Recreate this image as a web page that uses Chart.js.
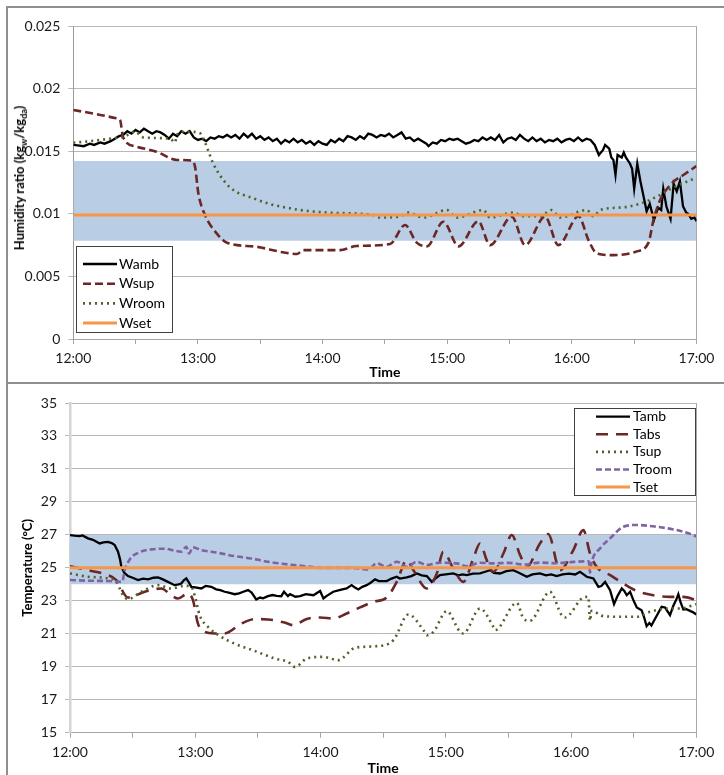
<!DOCTYPE html>
<html>
<head>
<meta charset="utf-8">
<script src="https://cdn.jsdelivr.net/npm/chart.js@4.4.1/dist/chart.umd.min.js"></script>
<style>
  html, body { margin: 0; padding: 0; background: #fff; }
  #wrap { position: relative; width: 724px; height: 775px; overflow: hidden; background: #fff; }
  .frame { position: absolute; background: #8f8f8f; }
  canvas { position: absolute; }
  #cTop { left: 8px; top: 8px; }
  #cBot { left: 8px; top: 384px; }
  #hTitle {
    position: absolute; left: 20px; top: 178px;
    transform: translate(-50%, -50%) rotate(-90deg);
    white-space: nowrap; font: bold 13px Lato, "Liberation Sans", sans-serif; color: #000;
  }
  #hTitle sub { font-size: 9px; vertical-align: -3px; }
</style>
</head>
<body>
<div id="wrap">
  <div class="frame" style="left:6px;top:6px;width:2px;height:769px"></div>
  <div class="frame" style="left:6px;top:6px;width:718px;height:2px"></div>
  <div class="frame" style="left:6px;top:382px;width:718px;height:2px"></div>
  <canvas id="cTop" width="716" height="374"></canvas>
  <canvas id="cBot" width="716" height="391"></canvas>
  <div id="hTitle">Humidity ratio (kg<sub>w</sub>/kg<sub>da</sub>)</div>
</div>
<script>
// ---------------- DATA (time in minutes after 12:00) ----------------
const xTickLabels = ['12:00', '13:00', '14:00', '15:00', '16:00', '17:00'];

// Humidity chart
const humBandLow = 0.00785;
const humBandHigh = 0.01422;
const wsetValue = 0.0099;

const wambT = [0,3,5,8,10,13,15,18,20,22,24,26,28,30,32,34,36,38,40,42,44,46,48,50,52,54,56,58,60,62,64,66,68,70,72,74,76,78,80,82,84,86,88,90,92,94,96,98,100,102,104,106,108,110,112,114,116,118,120,122,124,126,128,130,132,134,136,138,140,142,144,146,148,150,152,154,156,158,160,162,164,166,168,170,171,173,175,177,179,181,183,185,187,189,191,193,195,197,199,201,203,205,207,209,211,213,215,217,219,221,223,225,227,229,231,233,235,237,239,241,243,245,247,249,251,253,255,256,258,259,260,261,262,264,265,266,268,269,270,271.5,273,274.5,276,277.5,279.5,281.5,283,284,285.5,287.5,289,290.5,292,293.5,295,296,297.5,299,300];
const wambV = [0.0155,0.01545,0.0154,0.0156,0.0155,0.0157,0.0156,0.0158,0.0160,0.0162,0.0163,0.0166,0.0164,0.0167,0.0165,0.0168,0.0166,0.0164,0.0166,0.0165,0.0163,0.0160,0.0164,0.0162,0.0166,0.0164,0.0166,0.0161,0.0159,0.0160,0.0158,0.0161,0.0160,0.0162,0.0161,0.0163,0.0161,0.0163,0.0160,0.0164,0.0161,0.0164,0.0160,0.0162,0.0159,0.0161,0.0158,0.0160,0.0156,0.0159,0.0157,0.0160,0.0157,0.0159,0.0156,0.0158,0.0155,0.0158,0.0156,0.0155,0.0159,0.0157,0.0160,0.0158,0.0162,0.0161,0.0159,0.0162,0.0160,0.0164,0.0163,0.0161,0.0163,0.0162,0.0164,0.0161,0.0163,0.0165,0.0160,0.0161,0.0158,0.0160,0.0158,0.0156,0.0154,0.0157,0.0156,0.0159,0.0158,0.0160,0.0159,0.0160,0.0158,0.0156,0.0157,0.0159,0.0158,0.0161,0.0159,0.0161,0.0159,0.0163,0.0157,0.0160,0.0161,0.0159,0.0163,0.0160,0.0158,0.0161,0.0158,0.0160,0.0157,0.0159,0.0158,0.0160,0.0157,0.0159,0.0160,0.0158,0.0161,0.0158,0.0160,0.0159,0.0155,0.0147,0.0151,0.0155,0.0152,0.0145,0.0143,0.0131,0.0147,0.0145,0.0149,0.0145,0.0140,0.0136,0.0120,0.0140,0.0126,0.0114,0.0102,0.0108,0.0095,0.0105,0.0103,0.0120,0.0106,0.0096,0.0124,0.0118,0.0126,0.0106,0.0101,0.0100,0.0096,0.0097,0.0094];

const wsupT = [0,11,21,22.5,24,30.5,40,50,57,58.6,60.2,63.4,69,74,88,99.5,104,107.6,110.8,128.4,136.4,152.5,159.7,165.3,170.2,178.2,185.4,195,200.6,211.1,217.5,227.1,233.5,243.2,248,252,260,271.3,276.9,279.3,282.5,288.1,293.7,300];
const wsupV = [0.01829,0.01797,0.01763,0.0175,0.0161,0.01536,0.01496,0.0143,0.01425,0.01376,0.01164,0.0099,0.00844,0.00769,0.00737,0.00697,0.00684,0.00679,0.0071,0.0071,0.00743,0.00759,0.0091,0.0077,0.0074,0.00937,0.0074,0.0094,0.0075,0.00977,0.0075,0.00977,0.0075,0.0098,0.0079,0.00684,0.0067,0.0070,0.0077,0.0095,0.0111,0.01243,0.0131,0.01382];

const wroomT = [0,8,17.7,24.9,29.7,33.7,46.6,49,49.8,54.6,61,63.4,67.4,72.2,77,86.7,94.7,104.3,109.2,123.6,144.4,147.6,157.3,161.3,168.5,179.8,184.6,197.4,200.6,211.9,216.7,224.7,230.3,234.3,247.2,250.4,253.6,264.8,272.8,280.9,288.9,300];
const wroomV = [0.01568,0.0158,0.0160,0.0162,0.01656,0.0161,0.0160,0.0157,0.0163,0.01656,0.01643,0.0157,0.0140,0.0127,0.0119,0.01124,0.01078,0.01044,0.0103,0.01009,0.0099,0.0097,0.0098,0.0101,0.0097,0.0103,0.0097,0.0103,0.0097,0.0101,0.0098,0.0098,0.0103,0.0097,0.0103,0.0098,0.0103,0.01052,0.0108,0.01137,0.0121,0.01288];

// Temperature chart
const tempBandLow = 24;
const tempBandHigh = 27;
const tsetValue = 25;

const tambT = [0,2,4.6,6,8.6,11,14.2,16,18.2,20,21.4,23,24,24.6,26,27.8,30,32.6,35,37.4,40,42.2,44.5,46.9,48.5,50.1,52,53.3,54.5,55.7,57,58.1,60,62.9,65,67.7,70,72,74.1,76,78.9,81,83,85.3,87,89.2,91,92.5,94.8,97,99,101.2,102.5,104.4,105.4,108,110.2,113,116.6,119.8,121.4,123,126.1,129,132.5,134.9,136.5,138.1,140,142.1,144,146.1,148,151.7,154,156.5,158,161.3,163.5,166.1,168.5,170.9,173.3,175,177.2,180,183.6,186,188,190,193,196.4,198.5,201.2,203,206,209,212.3,215,218.8,221.5,225.1,228,230.5,233.1,236,239,242,244.3,246,247.5,250.7,253.1,254.5,256.3,258.7,260.6,262.3,264.3,265.5,266.7,268.3,270,271.5,273.8,275,276.2,277.5,278.5,279.4,281.5,283.4,285,286,287.4,289,290.5,291.4,292.5,293.8,295,297,298.5,300];
const tambV = [26.99,26.95,26.93,26.97,26.79,26.7,26.48,26.55,26.58,26.5,26.38,25.98,25.5,25.06,24.7,24.5,24.4,24.26,24.35,24.3,24.4,24.42,24.3,24.15,24.05,23.95,24.0,24.05,24.25,24.36,24.1,23.85,23.82,23.75,23.9,23.85,23.7,23.65,23.55,23.5,23.4,23.45,23.55,23.65,23.5,23.08,23.2,23.15,23.28,23.35,23.3,23.28,23.55,23.28,23.4,23.25,23.28,23.4,23.34,23.6,23.14,23.3,23.55,23.65,23.75,23.95,23.8,23.69,23.85,23.95,24.1,24.3,24.2,24.2,24.35,24.46,24.35,24.42,24.5,24.66,24.55,24.5,24.15,24.35,24.56,24.6,24.66,24.55,24.6,24.56,24.65,24.66,24.75,24.86,24.7,24.66,24.8,24.86,24.7,24.46,24.6,24.66,24.55,24.6,24.5,24.6,24.65,24.6,24.76,24.6,24.46,24.36,23.85,23.9,24.15,23.65,22.8,23.3,23.75,23.6,23.34,23.55,23.0,22.6,22.43,22.0,21.46,21.65,21.5,21.72,22.2,22.64,22.6,22.4,22.13,22.7,23.1,23.4,22.9,22.47,22.5,22.39,22.3,22.17];

const tabsT = [0,8.6,18.2,22.2,27.8,35.8,43.7,48.5,51.7,56.5,58.9,61.3,64.5,69.3,74.1,82.1,88.5,94.8,102.8,107,113.4,119.8,126.1,132.5,138.9,145.3,151.7,156.5,161.3,164.5,170.9,175.7,178.8,183.6,188.4,193.2,196.4,199.6,202.8,207.6,211.6,215.6,218.8,225.1,229.1,234.7,241.1,245.9,249.1,252.3,258.7,265.1,271.5,279.4,287.4,293.8,300];
const tabsV = [25.1,24.86,24.56,24.26,23.2,23.55,23.75,23.34,23.14,23.45,23.04,21.62,21.12,21.02,21.02,21.62,21.89,21.87,21.68,21.52,21.9,21.99,21.93,22.23,22.6,22.94,23.2,24.15,25.47,24.86,23.75,24.66,25.98,24.96,24.15,25.57,26.48,25.47,24.76,25.87,26.99,25.77,25.06,26.48,27.05,24.86,26.08,27.29,25.87,25.06,24.56,24.05,23.6,23.34,23.24,23.24,23.05];

const tsupT = [0,8.6,18.2,22.2,25.4,27.8,34.2,42.2,48.5,54.9,58.1,59.7,62.1,66.1,72.5,78.9,88.5,98.1,104.4,107.8,113.4,121.4,128.5,136.5,146.9,154.9,162.1,169.3,170.9,174.1,180.5,186.8,188.4,196.4,202.8,203.6,214,217.2,220.3,229.9,235.5,237.1,245.9,248.3,249.1,249.8,255.5,265.1,271.5,277.8,285.8,292.2,298.6,300];
const tsupV = [24.66,24.46,24.36,24.15,23.34,23.1,23.55,23.95,23.75,23.91,23.85,23.34,22.13,21.42,20.81,20.4,19.96,19.5,19.3,18.99,19.5,19.6,19.4,20.15,20.25,20.61,22.17,21.22,20.91,21.12,22.37,21.12,21.02,22.53,21.42,21.22,22.88,21.93,21.79,23.55,22.13,21.99,23.2,23.24,21.79,22.39,22.07,22.03,22.03,22.33,22.53,22.53,22.74,22.8];

const troomT = [0,8.6,18.2,25,26.2,28.6,32.6,38.9,45.4,50.1,53.3,55.7,57,58.9,62.9,70.9,78.9,86.8,94.8,102.8,112.6,120,135,142.9,146.9,151.7,156.5,161.3,166.1,170.9,177.2,185.2,190,196.4,202.8,210,218,225,233,240,248.5,249.1,249.8,253.9,258.7,265.1,271.5,281.1,290.6,298.6,300];
const troomV = [24.26,24.22,24.2,24.15,24.86,25.51,25.91,26.12,26.16,26.04,25.98,26.28,25.87,26.24,26.08,25.91,25.71,25.57,25.37,25.23,25.1,25.0,25.0,24.9,25.27,25.06,25.37,25.06,25.37,25.17,25.31,25.27,25.1,25.31,25.27,25.3,25.2,25.32,25.28,25.35,25.4,24.7,25.3,26.18,26.79,27.49,27.6,27.49,27.29,26.99,26.9];

// ---------------- CHART BUILDING ----------------
const FONT = 'Lato, "Liberation Sans", sans-serif';
const pts = (ts, vs) => ts.map((t, i) => ({ x: t, y: vs[i] }));
const flat = (v) => [{ x: 0, y: v }, { x: 300, y: v }];
const GRID = '#b8b8b8';

const boxLegend = {
  id: 'boxLegend',
  afterDraw(chart, args, o) {
    const ctx = chart.ctx;
    const items = chart.data.datasets.filter(d => d.inLegend);
    ctx.save();
    ctx.fillStyle = '#fff';
    ctx.fillRect(o.x, o.y, o.w, o.h);
    ctx.strokeStyle = '#404040';
    ctx.lineWidth = 1;
    ctx.strokeRect(o.x + 0.5, o.y + 0.5, o.w, o.h);
    items.forEach((d, i) => {
      const cy = o.y + o.first + i * o.rowH;
      ctx.beginPath();
      ctx.setLineDash(d.legendDash || d.borderDash || []);
      ctx.strokeStyle = d.borderColor;
      ctx.lineWidth = d.borderWidth;
      ctx.lineCap = 'butt';
      ctx.moveTo(o.lx, cy);
      ctx.lineTo(o.lx + o.len, cy);
      ctx.stroke();
      ctx.setLineDash([]);
      ctx.fillStyle = '#000';
      ctx.font = '14px ' + FONT;
      ctx.textBaseline = 'middle';
      ctx.textAlign = 'left';
      ctx.fillText(d.label, o.tx, cy);
    });
    ctx.restore();
  }
};

function xScale(height, titlePadBottom) {
  return {
    type: 'linear', min: 0, max: 300,
    afterFit: s => { s.height = height; },
    border: { display: true, color: '#a6a6a6', width: 1 },
    grid: {
      drawOnChartArea: true,
      color: c => (c.tick && c.tick.value === 300 ? '#a6a6a6' : 'rgba(0,0,0,0)'),
      tickColor: '#a6a6a6', tickLength: 5, lineWidth: 1
    },
    ticks: {
      stepSize: 30, autoSkip: false, maxRotation: 0, padding: 6,
      color: '#1a1a1a', font: { family: FONT, size: 14 },
      callback: v => (v % 60 === 0 ? xTickLabels[v / 60] : '')
    },
    title: {
      display: true, text: 'Time', color: '#000',
      font: { family: FONT, size: 14, weight: 'bold', lineHeight: 1.0 },
      padding: { top: 0, bottom: titlePadBottom }
    }
  };
}

function baseOptions(pad, yScale, xHeight, titlePadBottom, legendOpts) {
  return {
    responsive: false, animation: false, devicePixelRatio: 1,
    layout: { padding: pad },
    plugins: { legend: { display: false }, tooltip: { enabled: false }, boxLegend: legendOpts },
    elements: { point: { radius: 0 }, line: { borderCapStyle: 'butt' } },
    scales: { x: xScale(xHeight, titlePadBottom), y: yScale }
  };
}

function lineDs(label, data, color, width, dash, smooth, order, extra) {
  return Object.assign({
    type: 'line', label, data, borderColor: color, borderWidth: width,
    borderDash: dash, fill: false, pointRadius: 0, order, inLegend: true,
    tension: smooth ? 0.4 : 0, cubicInterpolationMode: smooth ? 'monotone' : 'default'
  }, extra || {});
}

function build() {
  // ---------- Humidity chart ----------
  new Chart(document.getElementById('cTop'), {
    type: 'line',
    data: {
      datasets: [
        { label: 'band', data: flat(humBandHigh), borderWidth: 0, borderColor: 'rgba(0,0,0,0)',
          backgroundColor: '#b9cde5', fill: { value: humBandLow }, pointRadius: 0, order: 20, inLegend: false },
        lineDs('Wamb', pts(wambT, wambV), '#000000', 2.3, [], false, 5),
        lineDs('Wsup', pts(wsupT, wsupV), '#6b2726', 2.6, [8, 4], true, 4),
        lineDs('Wroom', pts(wroomT, wroomV), '#4f6228', 2.6, [2, 4], true, 3),
        lineDs('Wset', flat(wsetValue), '#f79646', 3, [], false, 2)
      ]
    },
    options: baseOptions(
      { left: 0, top: 18, right: 27.5, bottom: 0 },
      {
        type: 'linear', min: 0, max: 0.025,
        afterFit: s => { s.width = 65.3; },
        border: { display: true, color: '#9a9a9a', width: 1 },
        grid: { color: GRID, tickColor: GRID, tickLength: 5, lineWidth: 1 },
        ticks: { stepSize: 0.005, padding: 8, color: '#1a1a1a', font: { family: FONT, size: 14 },
                 callback: v => String(Number(v.toFixed(3))) },
        title: { display: false }
      },
      43, 3,
      { x: 68, y: 238, w: 96, h: 86, first: 18, rowH: 19.7, lx: 75, len: 34, tx: 111 }
    ),
    plugins: [boxLegend]
  });

  // ---------- Temperature chart ----------
  new Chart(document.getElementById('cBot'), {
    type: 'line',
    data: {
      datasets: [
        { label: 'band', data: flat(tempBandHigh), borderWidth: 0, borderColor: 'rgba(0,0,0,0)',
          backgroundColor: '#b9cde5', fill: { value: tempBandLow }, pointRadius: 0, order: 20, inLegend: false },
        lineDs('Tamb', pts(tambT, tambV), '#000000', 2.3, [], false, 6),
        lineDs('Tabs', pts(tabsT, tabsV), '#6b2726', 2.6, [12, 8], true, 5),
        lineDs('Tsup', pts(tsupT, tsupV), '#4f6228', 2.6, [2, 4], true, 4),
        lineDs('Troom', pts(troomT, troomV), '#8064a2', 2.6, [6, 3], true, 3),
        lineDs('Tset', flat(tsetValue), '#f79646', 3, [], false, 2)
      ]
    },
    options: baseOptions(
      { left: 0, top: 19, right: 27.7, bottom: 0 },
      {
        type: 'linear', min: 15, max: 35,
        afterFit: s => { s.width = 62; },
        border: { display: true, color: '#d4d4d4', width: 2.5 },
        grid: { color: GRID, tickColor: GRID, tickLength: 5, lineWidth: 1 },
        ticks: { stepSize: 2, padding: 8, color: '#1a1a1a', font: { family: FONT, size: 14 } },
        title: { display: true, text: 'Temperature (°C)', color: '#000',
                 font: { family: FONT, size: 13, weight: 'bold', lineHeight: 1.0 },
                 padding: { top: 13, bottom: 0 } }
      },
      42.3, 0,
      { x: 566, y: 24, w: 121, h: 87, first: 8.7, rowH: 17.6, lx: 588, len: 34, tx: 625 }
    ),
    plugins: [boxLegend]
  });
}

if (document.fonts && document.fonts.load) {
  Promise.all([
    document.fonts.load('14px Lato'),
    document.fonts.load('bold 14px Lato')
  ]).then(build, build);
} else {
  build();
}
</script>
</body>
</html>
